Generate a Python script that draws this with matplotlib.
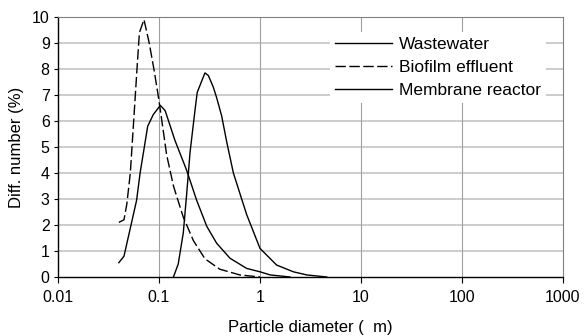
import matplotlib

matplotlib.use("Agg")
import matplotlib.pyplot as plt

plt.rcParams["font.family"] = ["Liberation Sans", "DejaVu Sans"]
plt.rcParams["lines.scale_dashes"] = False

# Wastewater (peak near 0.3 um)
ww_x = [0.139, 0.155, 0.174, 0.188, 0.203, 0.227, 0.239, 0.285, 0.308, 0.345,
        0.372, 0.417, 0.468, 0.545, 0.634, 0.738, 1.0, 1.46, 2.14, 2.9, 4.57]
ww_y = [0.0, 0.5, 1.7, 3.2, 4.8, 6.4, 7.1, 7.85, 7.75, 7.3,
        6.9, 6.2, 5.2, 4.0, 3.2, 2.4, 1.1, 0.46, 0.2, 0.08, 0.0]

# Biofilm effluent (dashed)
bio_x = [0.040, 0.045, 0.048, 0.052, 0.057, 0.061, 0.064, 0.071, 0.080, 0.089,
         0.098, 0.105, 0.119, 0.139, 0.174, 0.219, 0.285, 0.40, 0.63, 1.0]
bio_y = [2.1, 2.2, 2.8, 4.0, 6.4, 8.2, 9.4, 9.9, 9.0, 8.0,
         7.0, 6.2, 4.7, 3.5, 2.3, 1.4, 0.7, 0.3, 0.08, 0.0]

# Membrane reactor (peak near 0.1 um)
mem_x = [0.040, 0.045, 0.0525, 0.060, 0.065, 0.0773, 0.0879, 0.103, 0.115, 0.144,
         0.188, 0.236, 0.297, 0.372, 0.505, 0.738, 1.0, 1.26, 1.98]
mem_y = [0.55, 0.8, 1.95, 2.95, 4.0, 5.8, 6.25, 6.6, 6.4, 5.25,
         4.1, 2.95, 1.95, 1.3, 0.72, 0.33, 0.2, 0.08, 0.0]

x_ticks = [0.01, 0.1, 1, 10, 100, 1000]
x_labels = ["0.01", "0.1", "1", "10", "100", "1000"]
y_ticks = list(range(0, 11))

fig = plt.figure(figsize=(5.84, 3.36), dpi=100)
ax = fig.add_axes([58 / 584, 1 - 277 / 336, 505 / 584, 260 / 336])

ax.plot(ww_x, ww_y, color="black", lw=1.0, label="Wastewater")
ax.plot(bio_x, bio_y, color="black", lw=1.0, dashes=(7.5, 2.5),
        label="Biofilm effluent")
ax.plot(mem_x, mem_y, color="black", lw=1.0, label="Membrane reactor")

ax.set_xscale("log")
ax.set_xlim(0.01, 1000)
ax.set_ylim(0, 10)
ax.set_xticks(x_ticks)
ax.set_xticklabels(x_labels)
ax.minorticks_off()
ax.set_yticks(y_ticks)

# grid: light horizontal, darker vertical
for v in y_ticks[1:]:
    ax.axhline(v, color="#c8c8c8", lw=1.3, zorder=0)
for v in x_ticks[1:-1]:
    ax.axvline(v, color="#a0a0a0", lw=0.8, zorder=0)

for s in ["top", "right"]:
    ax.spines[s].set_color("#808080")
    ax.spines[s].set_linewidth(0.8)
for s in ["left", "bottom"]:
    ax.spines[s].set_color("black")
    ax.spines[s].set_linewidth(1.0)

ax.tick_params(axis="both", labelsize=11.5, direction="out", length=3,
               width=0.8, pad=3)
ax.tick_params(axis="x", length=4, pad=5.5)

ax.set_xlabel("Particle diameter (  m)", fontsize=12, labelpad=11)
ax.set_ylabel("Diff. number (%)", fontsize=12, labelpad=6)

leg = ax.legend(loc="upper right", bbox_to_anchor=(0.983, 0.976),
                frameon=True, fontsize=12.5, handlelength=3.3,
                handletextpad=0.35, labelspacing=0.45, borderpad=0.3,
                fancybox=False)
leg.get_frame().set_edgecolor("none")
leg.get_frame().set_facecolor("white")
leg.get_frame().set_alpha(1.0)

fig.savefig("out.png", dpi=100)
